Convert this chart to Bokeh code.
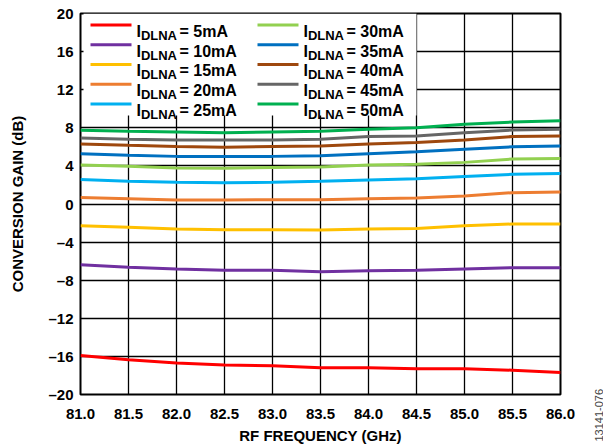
import math
from bokeh.plotting import figure
from bokeh.layouts import row
from bokeh.models import FixedTicker, Label, Arrow, BoxAnnotation, Title
from bokeh.embed import file_html
from bokeh.resources import INLINE

# ---- data ----
freq_ghz = [81.0, 81.5, 82.0, 82.5, 83.0, 83.5, 84.0, 84.5, 85.0, 85.5, 86.0]

gain_5ma = [-15.9, -16.35, -16.7, -16.9, -16.97, -17.2, -17.2, -17.3, -17.3, -17.45, -17.7]
gain_10ma = [-6.37, -6.65, -6.82, -6.96, -6.96, -7.1, -7.0, -6.96, -6.82, -6.68, -6.68]
gain_15ma = [-2.28, -2.45, -2.63, -2.7, -2.7, -2.73, -2.63, -2.56, -2.28, -2.1, -2.1]
gain_20ma = [0.67, 0.56, 0.42, 0.42, 0.45, 0.45, 0.56, 0.63, 0.84, 1.19, 1.26]
gain_25ma = [2.57, 2.4, 2.29, 2.22, 2.29, 2.4, 2.53, 2.64, 2.88, 3.12, 3.19]
gain_30ma = [4.1, 3.96, 3.78, 3.75, 3.82, 3.89, 4.1, 4.17, 4.37, 4.72, 4.79]
gain_35ma = [5.27, 5.13, 5.0, 5.0, 5.0, 5.06, 5.27, 5.48, 5.76, 6.0, 6.1]
gain_40ma = [6.31, 6.17, 6.04, 5.97, 6.04, 6.1, 6.31, 6.45, 6.73, 7.08, 7.14]
gain_45ma = [6.94, 6.8, 6.73, 6.73, 6.73, 6.8, 7.08, 7.14, 7.49, 7.76, 7.84]
gain_50ma = [7.73, 7.63, 7.56, 7.49, 7.56, 7.63, 7.84, 8.01, 8.36, 8.6, 8.74]

series = [gain_5ma, gain_10ma, gain_15ma, gain_20ma, gain_25ma,
          gain_30ma, gain_35ma, gain_40ma, gain_45ma, gain_50ma]
currents = ["5mA", "10mA", "15mA", "20mA", "25mA",
            "30mA", "35mA", "40mA", "45mA", "50mA"]
colors = ["#FF0000", "#7030A0", "#FFC000", "#ED7D31", "#00B0F0",
          "#92D050", "#0070C0", "#9E480E", "#666666", "#00B050"]

x_ticks = freq_ghz
x_tick_labels = ["81.0", "81.5", "82.0", "82.5", "83.0", "83.5",
                 "84.0", "84.5", "85.0", "85.5", "86.0"]
y_ticks = [-20, -16, -12, -8, -4, 0, 4, 8, 12, 16, 20]
y_tick_labels = ["\u201320", "\u201316", "\u201312", "\u20138", "\u20134",
                 "0", "4", "8", "12", "16", "20"]

FONT = "Liberation Sans"

p = figure(width=576, height=446, x_range=(81.0, 86.0), y_range=(-20, 20),
           output_backend="svg", toolbar_location=None,
           min_border_left=80, min_border_right=16,
           min_border_top=13, min_border_bottom=48)

p.background_fill_color = "white"
p.border_fill_color = "white"
p.outline_line_color = "black"
p.outline_line_width = 2

for g in (p.xgrid, p.ygrid):
    g.grid_line_color = "black"
    g.grid_line_width = 1.3
    g.grid_line_alpha = 1.0

p.xaxis.ticker = FixedTicker(ticks=x_ticks)
p.yaxis.ticker = FixedTicker(ticks=y_ticks)
p.xaxis.major_label_overrides = {t: l for t, l in zip(x_ticks, x_tick_labels)}
p.yaxis.major_label_overrides = {t: l for t, l in zip(y_ticks, y_tick_labels)}

for ax in (p.xaxis, p.yaxis):
    ax.axis_line_color = None
    ax.major_tick_line_color = None
    ax.minor_tick_line_color = None
    ax.major_tick_in = 0
    ax.major_tick_out = 0
    ax.minor_tick_in = 0
    ax.minor_tick_out = 0
    ax.major_label_text_font = FONT
    ax.major_label_text_font_style = "bold"
    ax.major_label_text_font_size = "15px"
    ax.major_label_text_color = "black"
    ax.axis_label_text_font = FONT
    ax.axis_label_text_font_style = "bold"
    ax.axis_label_text_font_size = "15px"
    ax.axis_label_text_color = "black"

p.xaxis.axis_label = "RF FREQUENCY (GHz)"
p.yaxis.axis_label = "CONVERSION GAIN (dB)"
p.xaxis.major_label_standoff = 14
p.xaxis.axis_label_standoff = 5
p.yaxis.major_label_standoff = 7
p.yaxis.axis_label_standoff = 19

for ys, c in zip(series, colors):
    p.line(freq_ghz, ys, line_color=c, line_width=3)

# ---- legend (screen units, relative to frame bottom-left) ----
p.add_layout(BoxAnnotation(left=3, right=336, top=381, bottom=279,
                           left_units="screen", right_units="screen",
                           top_units="screen", bottom_units="screen",
                           fill_color="white", fill_alpha=1.0, line_color=None))

col_x = [10, 177]
for i, (cur, c) in enumerate(zip(currents, colors)):
    col = i // 5
    row_i = i % 5
    ly = 369.6 - 19.75 * row_i
    x0 = col_x[col]
    tx = x0 + 46
    p.add_layout(Label(x=tx, y=ly - 6.5, x_units="screen", y_units="screen",
                       text="I", text_font=FONT, text_font_style="bold",
                       text_font_size="16px", text_baseline="alphabetic",
                       text_color="black"))
    p.add_layout(Label(x=tx + 4.4, y=ly - 10.5, x_units="screen", y_units="screen",
                       text="DLNA", text_font=FONT, text_font_style="bold",
                       text_font_size="13px", text_baseline="alphabetic",
                       text_color="black"))
    p.add_layout(Label(x=tx + 43, y=ly - 6.5, x_units="screen", y_units="screen",
                       text="= " + cur, text_font=FONT, text_font_style="bold",
                       text_font_size="16px", text_baseline="alphabetic",
                       text_color="black"))

for i, c in enumerate(colors):
    col = i // 5
    row_i = i % 5
    ly = 369.6 - 19.75 * row_i
    x0 = col_x[col]
    p.add_layout(Arrow(x_start=x0, y_start=ly, x_end=x0 + 41, y_end=ly,
                       start_units="screen", end_units="screen", end=None,
                       line_color=c, line_width=3))

# ---- narrow side strip carrying the figure id, reading bottom-to-top ----
side = figure(width=27, height=446, x_range=(0, 1), y_range=(0, 1),
              output_backend="svg", toolbar_location=None,
              min_border_left=26, min_border_right=0,
              min_border_top=0, min_border_bottom=0)
side.axis.visible = False
side.grid.visible = False
side.outline_line_color = None
side.background_fill_color = "white"
side.border_fill_color = "white"
side.add_layout(Title(text="13141-076", align="left", offset=-47, standoff=0,
                      text_font=FONT, text_font_size="11px",
                      text_font_style="normal", text_color="#444444"), "left")

page = row(p, side)
open("out.html", "w").write(file_html(page, INLINE))
